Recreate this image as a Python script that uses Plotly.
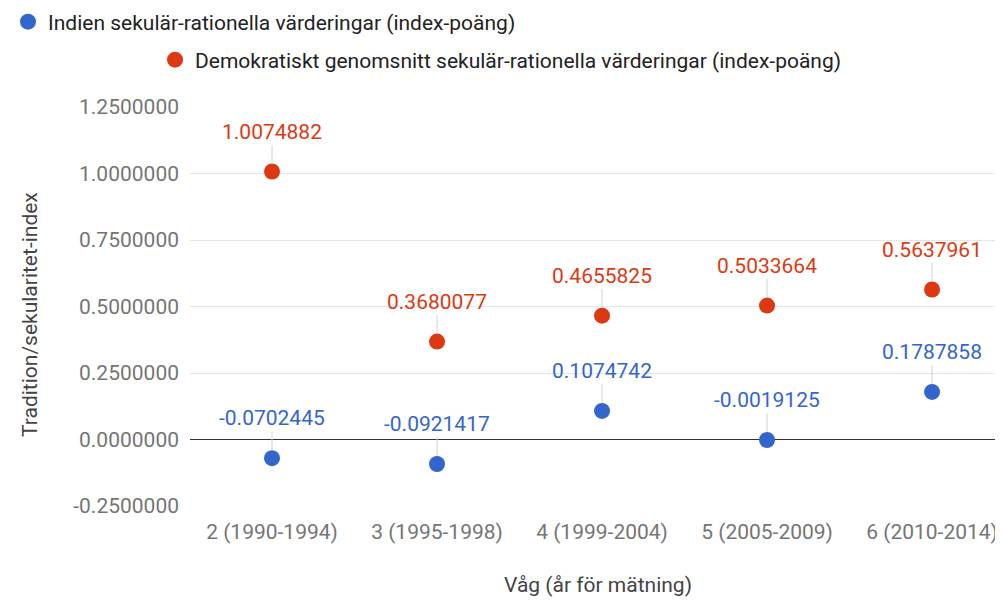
import plotly.graph_objects as go

waves = ["2 (1990-1994)", "3 (1995-1998)", "4 (1999-2004)", "5 (2005-2009)", "6 (2010-2014)"]
india = [-0.0702445, -0.0921417, 0.1074742, -0.0019125, 0.1787858]
democ = [1.0074882, 0.3680077, 0.4655825, 0.5033664, 0.5637961]
yticks = [-0.25, 0, 0.25, 0.5, 0.75, 1.0, 1.25]

name_india = "Indien sekulär-rationella värderingar (index-poäng)"
name_democ = "Demokratiskt genomsnitt sekulär-rationella värderingar (index-poäng)"

blue = "#3366cc"
red = "#dc3912"
font = "Roboto"
fs = 21

fig = go.Figure()
fig.add_trace(go.Scatter(x=waves, y=india, mode="markers", name=name_india,
                         marker=dict(color=blue, size=16), legend="legend"))
fig.add_trace(go.Scatter(x=waves, y=democ, mode="markers", name=name_democ,
                         marker=dict(color=red, size=16), legend="legend2"))

# value labels with short leader lines
annots = []
for vals, col in [(india, blue), (democ, red)]:
    for w, v in zip(waves, vals):
        annots.append(dict(x=w, y=v, xref="x", yref="y", text=f"{v:.7f}",
                           showarrow=True, arrowhead=0, arrowwidth=1,
                           arrowcolor="#d0d0d0", ax=0, ay=-40, standoff=8,
                           font=dict(color=col, size=fs, family=font)))

# axis titles as annotations
annots.append(dict(xref="paper", yref="paper", x=0.502, y=-0.198,
                   text="Våg (år för mätning)", showarrow=False,
                   xanchor="center", yanchor="middle",
                   font=dict(size=fs, color="#444444")))
annots.append(dict(xref="paper", yref="paper", x=-0.1968, y=0.4787,
                   text="Tradition/sekularitet-index", showarrow=False, textangle=-90,
                   xanchor="center", yanchor="middle",
                   font=dict(size=fs, color="#444444")))

fig.update_layout(
    width=1003, height=601,
    margin=dict(l=182, r=8, t=99, b=103, autoexpand=False),
    plot_bgcolor="white", paper_bgcolor="white",
    font=dict(family=font, size=fs, color="#444444"),
    annotations=annots,
    showlegend=True,
    legend=dict(xref="container", yref="container", x=0.0, y=0.9767,
                xanchor="left", yanchor="middle",
                font=dict(size=fs, color="#222222"), bgcolor="rgba(0,0,0,0)"),
    legend2=dict(xref="container", yref="container", x=0.1466, y=0.9135,
                 xanchor="left", yanchor="middle",
                 font=dict(size=fs, color="#222222"), bgcolor="rgba(0,0,0,0)"),
    xaxis=dict(type="category", range=[-0.497, 4.43], showgrid=False,
               showline=False, zeroline=False, ticks="", tickangle=0,
               automargin=False, ticklabelstandoff=11,
               tickfont=dict(size=fs, color="#757575")),
    yaxis=dict(range=[-0.25, 1.25], tickvals=yticks,
               ticktext=[f"{t:.7f}" for t in yticks],
               showgrid=True, gridcolor="#e6e6e6",
               zeroline=True, zerolinecolor="#333333", zerolinewidth=1,
               ticks="", ticklabelstandoff=10, showline=False, automargin=False,
               tickfont=dict(size=fs, color="#757575")),
)

fig.write_html("out.html")
